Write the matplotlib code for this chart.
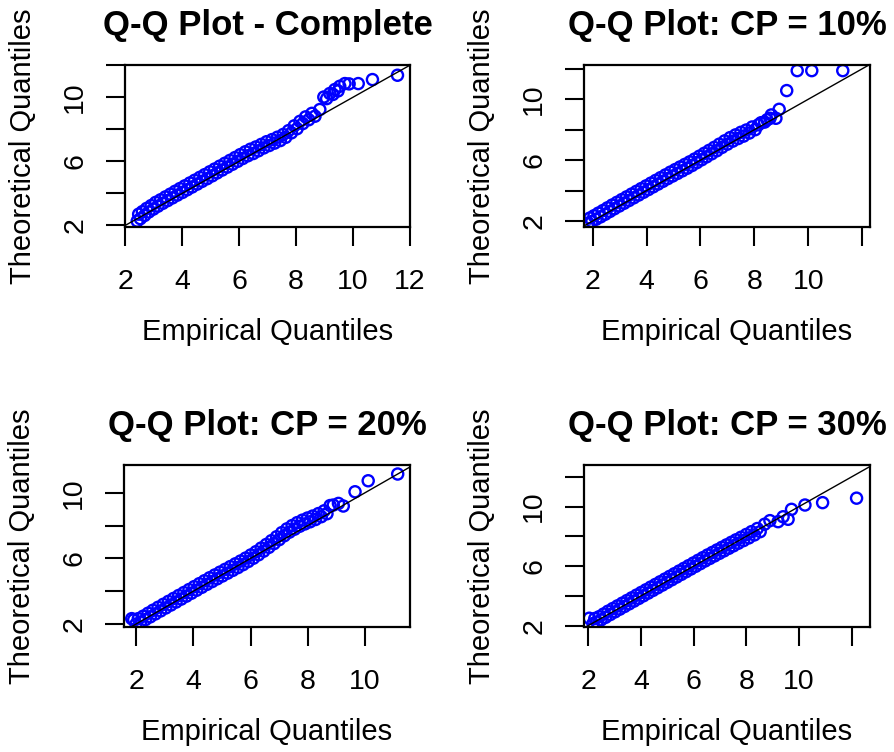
import matplotlib.pyplot as plt

plt.rcParams["font.family"] = ["Liberation Sans", "DejaVu Sans"]

# Empirical vs theoretical quantiles, complete data
complete_emp = [2.42, 2.47, 2.53, 2.60, 2.68, 2.75, 2.83, 2.91, 2.99, 3.07, 3.15, 3.24, 3.32, 3.41, 3.49,
                3.58, 3.66, 3.75, 3.83, 3.92, 4.01, 4.09, 4.18, 4.27, 4.35, 4.44, 4.53, 4.62, 4.70, 4.79,
                4.88, 4.97, 5.06, 5.14, 5.23, 5.32, 5.41, 5.50, 5.59, 5.68, 5.77, 5.86, 5.95, 6.04, 6.13,
                6.22, 6.31, 6.40, 6.50, 6.59, 6.68, 6.78, 6.87, 6.97, 7.06, 7.16, 7.25, 7.35, 7.45, 7.55,
                7.64, 7.74, 7.84, 7.94, 8.04, 8.14, 8.24, 8.34, 8.45, 8.56, 8.67,
                8.84, 8.98, 9.08, 9.19, 9.30, 9.37, 9.48, 9.54, 9.72, 9.87, 10.19, 10.69, 11.57]
complete_theo = [2.27, 2.70, 2.42, 2.86, 2.62, 3.06, 2.84, 3.24, 3.02, 3.44, 3.20, 3.60, 3.38, 3.78, 3.55,
                 3.95, 3.72, 4.13, 3.89, 4.30, 4.06, 4.47, 4.23, 4.65, 4.40, 4.82, 4.58, 5.00, 4.75, 5.17,
                 4.92, 5.35, 5.10, 5.52, 5.28, 5.70, 5.46, 5.88, 5.64, 6.06, 5.82, 6.24, 6.00, 6.42, 6.18,
                 6.60, 6.35, 6.76, 6.49, 6.90, 6.66, 7.06, 6.84, 7.23, 6.99, 7.36, 7.14, 7.51, 7.30, 7.68,
                 7.50, 7.92, 7.78, 8.22, 8.04, 8.50, 8.36, 8.78, 8.60, 9.00, 8.82,
                 9.24, 10.02, 9.92, 10.24, 10.18, 10.49, 10.40, 10.69, 10.86, 10.84, 10.86, 11.11, 11.38]

# CP = 10%
cp10_emp = [1.84, 1.90, 1.97, 2.05, 2.13, 2.21, 2.30, 2.38, 2.47, 2.55, 2.64, 2.72, 2.81, 2.90, 2.99,
            3.08, 3.17, 3.26, 3.35, 3.44, 3.53, 3.62, 3.71, 3.80, 3.89, 3.98, 4.07, 4.16, 4.25, 4.34,
            4.43, 4.52, 4.61, 4.70, 4.79, 4.88, 4.97, 5.06, 5.15, 5.24, 5.33, 5.42, 5.51, 5.60, 5.69,
            5.78, 5.87, 5.96, 6.05, 6.14, 6.23, 6.32, 6.42, 6.51, 6.61, 6.70, 6.80, 6.90, 7.00, 7.10,
            7.20, 7.30, 7.40, 7.50, 7.60, 7.70, 7.81, 7.92, 8.03,
            8.15, 8.25, 8.38, 8.47, 8.58, 8.63, 8.80, 8.92, 9.20, 9.59, 10.13, 11.28]
cp10_theo = [1.87, 2.20, 1.97, 2.35, 2.12, 2.52, 2.28, 2.69, 2.45, 2.87, 2.63, 3.05, 2.81, 3.23, 2.99,
             3.41, 3.17, 3.59, 3.35, 3.77, 3.53, 3.95, 3.71, 4.13, 3.89, 4.31, 4.07, 4.49, 4.25, 4.67,
             4.43, 4.85, 4.61, 5.03, 4.79, 5.21, 4.96, 5.38, 5.13, 5.55, 5.30, 5.72, 5.47, 5.89, 5.65,
             6.07, 5.84, 6.26, 6.03, 6.45, 6.22, 6.64, 6.42, 6.84, 6.62, 7.05, 6.84, 7.27, 7.05, 7.48,
             7.25, 7.66, 7.42, 7.83, 7.58, 7.98, 7.78, 8.18, 8.00,
             8.32, 8.46, 8.50, 8.65, 8.75, 8.97, 8.75, 9.34, 10.57, 11.88, 11.88, 11.88]

# CP = 20%
cp20_emp = [1.85, 1.92, 2.00, 2.08, 2.16, 2.25, 2.33, 2.42, 2.50, 2.59, 2.68, 2.77, 2.86, 2.95, 3.04,
            3.13, 3.22, 3.31, 3.40, 3.49, 3.58, 3.67, 3.76, 3.85, 3.94, 4.03, 4.12, 4.21, 4.30, 4.39,
            4.48, 4.57, 4.66, 4.75, 4.84, 4.93, 5.02, 5.11, 5.20, 5.29, 5.38, 5.47, 5.56, 5.65, 5.74,
            5.83, 5.92, 6.01, 6.10, 6.19, 6.28, 6.37, 6.46, 6.55, 6.64, 6.73, 6.82, 6.91, 7.00, 7.09,
            7.18, 7.27, 7.36, 7.45, 7.54, 7.63, 7.72, 7.81, 7.90, 7.99, 8.08, 8.17, 8.27, 8.37, 8.47,
            8.57, 8.67,
            8.78, 8.89, 9.07, 9.24, 9.65, 10.11, 11.14]
cp20_theo = [2.33, 2.26, 2.00, 2.33, 2.12, 2.48, 2.27, 2.66, 2.44, 2.84, 2.62, 3.02, 2.80, 3.20, 2.98,
             3.38, 3.16, 3.56, 3.34, 3.74, 3.52, 3.92, 3.70, 4.10, 3.88, 4.28, 4.06, 4.46, 4.24, 4.64,
             4.42, 4.82, 4.59, 4.99, 4.76, 5.16, 4.93, 5.33, 5.10, 5.50, 5.27, 5.67, 5.44, 5.84, 5.62,
             6.02, 5.81, 6.21, 6.01, 6.41, 6.22, 6.63, 6.44, 6.85, 6.67, 7.08, 6.90, 7.32, 7.14, 7.57,
             7.38, 7.80, 7.60, 8.00, 7.78, 8.18, 7.96, 8.33, 8.10, 8.46, 8.23, 8.58, 8.37, 8.73, 8.54,
             8.90, 8.72,
             9.22, 9.25, 9.35, 9.19, 10.06, 10.73, 11.14]

# CP = 30%
cp30_emp = [2.04, 2.18, 2.25, 2.33, 2.41, 2.49, 2.58, 2.66, 2.75, 2.84, 2.93, 3.02, 3.11, 3.20, 3.29,
            3.38, 3.47, 3.56, 3.65, 3.74, 3.83, 3.92, 4.01, 4.10, 4.19, 4.28, 4.37, 4.46, 4.55, 4.64,
            4.73, 4.82, 4.91, 5.00, 5.09, 5.18, 5.27, 5.36, 5.45, 5.54, 5.63, 5.72, 5.81, 5.90, 5.99,
            6.08, 6.17, 6.26, 6.35, 6.44, 6.53, 6.62, 6.71, 6.80, 6.89, 6.98, 7.07, 7.16, 7.25, 7.34,
            7.43, 7.52, 7.61, 7.70, 7.80, 7.90, 8.00, 8.10, 8.20, 8.31, 8.42, 8.53,
            8.70, 8.90, 9.21, 9.40, 9.59, 9.72, 10.23, 10.90, 12.19]
cp30_theo = [2.50, 2.14, 2.48, 2.24, 2.60, 2.39, 2.78, 2.56, 2.97, 2.75, 3.15, 2.93, 3.33, 3.11, 3.51,
             3.29, 3.69, 3.47, 3.87, 3.65, 4.05, 3.83, 4.23, 4.01, 4.41, 4.19, 4.59, 4.37, 4.77, 4.55,
             4.95, 4.73, 5.13, 4.91, 5.31, 5.09, 5.49, 5.27, 5.67, 5.45, 5.85, 5.63, 6.03, 5.81, 6.21,
             5.99, 6.39, 6.17, 6.57, 6.35, 6.75, 6.52, 6.92, 6.69, 7.09, 6.86, 7.26, 7.03, 7.43, 7.20,
             7.60, 7.37, 7.77, 7.54, 7.94, 7.72, 8.13, 7.90, 8.32, 8.10, 8.53, 8.32,
             8.82, 9.06, 8.99, 9.32, 9.15, 9.82, 10.11, 10.27, 10.57]

titles = ["Q-Q Plot - Complete", "Q-Q Plot: CP = 10%", "Q-Q Plot: CP = 20%", "Q-Q Plot: CP = 30%"]
tick_vals = [2, 4, 6, 8, 10, 12]
x_tick_labels = [["2", "4", "6", "8", "10", "12"],
                 ["2", "4", "6", "8", "10", ""],
                 ["2", "4", "6", "8", "10", ""],
                 ["2", "4", "6", "8", "10", ""]]
y_tick_labels = ["2", "", "6", "", "10", ""]

panels = [(complete_emp, complete_theo), (cp10_emp, cp10_theo),
          (cp20_emp, cp20_theo), (cp30_emp, cp30_theo)]

# plot boxes in pixels: left, top, right, bottom
W, H = 894, 752
boxes = [(125, 65, 410, 227), (584, 65, 870, 227), (124, 465, 410, 627), (584, 465, 870, 627)]
xlims = [(1.99, 12.01), (1.68, 12.29), (1.58, 11.57), (1.84, 12.70)]
ylims = [(1.90, 12.02), (1.61, 12.25), (1.82, 11.69), (1.91, 12.80)]

fig = plt.figure(figsize=(W / 100, H / 100), dpi=100)

for i, (emp, theo) in enumerate(panels):
    l, t, r, b = boxes[i]
    ax = fig.add_axes([l / W, 1 - b / H, (r - l) / W, (b - t) / H])
    ax.scatter(emp, theo, s=64, facecolors="none", edgecolors="blue", linewidths=1.7, zorder=2)
    ax.axline((2, 2), slope=1, color="black", lw=1.0, zorder=3)
    ax.set_xlim(xlims[i])
    ax.set_ylim(ylims[i])

    xt = [v for v in tick_vals if xlims[i][0] <= v <= xlims[i][1]]
    ax.set_xticks(xt)
    ax.set_xticklabels(x_tick_labels[i][:len(xt)])
    yt = [v for v in tick_vals if ylims[i][0] <= v <= ylims[i][1]]
    ax.set_yticks(yt)
    ax.set_yticklabels(y_tick_labels[:len(yt)], rotation=90, va="center")

    ax.tick_params(axis="both", length=13.5, width=1.5, labelsize=20.5, color="black")
    ax.tick_params(axis="x", pad=17)
    ax.tick_params(axis="y", pad=13)
    for sp in ax.spines.values():
        sp.set_linewidth(1.6)

    ax.set_title(titles[i], fontsize=25, fontweight="bold", y=1.185, pad=0, va="baseline")
    ax.set_xlabel("Empirical Quantiles", fontsize=21, va="baseline")
    ax.xaxis.set_label_coords(0.5, -113 / (b - t))
    ax.set_ylabel("Theoretical Quantiles", fontsize=21, va="baseline")
    ax.yaxis.set_label_coords(-94 / (r - l), 0.5)

fig.savefig("out.png", dpi=100)
